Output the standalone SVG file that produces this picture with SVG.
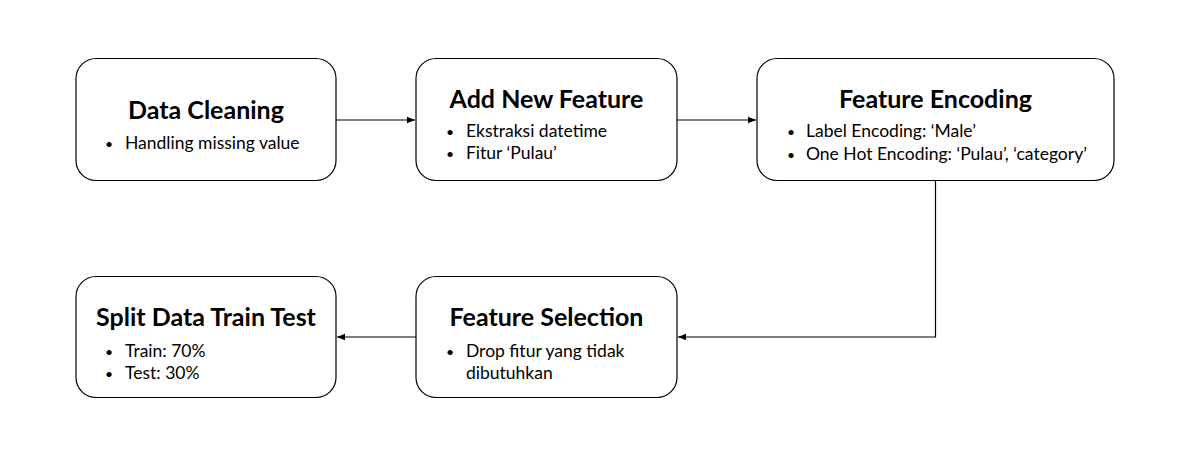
<svg xmlns="http://www.w3.org/2000/svg" width="1185" height="454" viewBox="0 0 1185 454">
<style>
.box{fill:#fff;stroke:#000;stroke-width:1.2}
.t{font-family:Lato,"Liberation Sans",sans-serif;font-weight:bold;font-size:25px;fill:#000;text-anchor:middle}
.b{font-family:Lato,"Liberation Sans",sans-serif;font-size:17.5px;fill:#000}
.d{font-family:Lato,"Liberation Sans",sans-serif;font-size:14px;fill:#000}
.c{fill:none;stroke:#000;stroke-width:1.2}
</style>
<defs>
<marker id="ah" viewBox="0 0 10 10" refX="10" refY="5" markerWidth="8" markerHeight="8" markerUnits="userSpaceOnUse" orient="auto">
<path d="M0,1 L10,5 L0,9 Z" fill="#000"/>
</marker>
</defs>
<rect width="1185" height="454" fill="#fff"/>
<g id="connectors">
<path class="c" d="M336,120 H415" marker-end="url(#ah)"/>
<path class="c" d="M677,120 H756" marker-end="url(#ah)"/>
<path class="c" d="M935.5,180 V337 H678" marker-end="url(#ah)"/>
<path class="c" d="M416,337 H337" marker-end="url(#ah)"/>
</g>
<g id="data-cleaning">
<rect class="box" x="76" y="58.5" width="260" height="122" rx="20"/>
<text class="t" x="206" y="119">Data Cleaning</text>
<text class="d" x="105" y="149">•</text><text class="b" x="125" y="149">Handling missing value</text>
</g>
<g id="add-new-feature">
<rect class="box" x="416" y="58.5" width="261" height="122" rx="20"/>
<text class="t" x="546.5" y="108">Add New Feature</text>
<text class="d" x="446" y="137">•</text><text class="b" x="466" y="137">Ekstraksi datetime</text>
<text class="d" x="446" y="159">•</text><text class="b" x="466" y="159">Fitur ‘Pulau’</text>
</g>
<g id="feature-encoding">
<rect class="box" x="757" y="58.5" width="357" height="122" rx="20"/>
<text class="t" x="935.5" y="108">Feature Encoding</text>
<text class="d" x="787" y="137">•</text><text class="b" x="806" y="137">Label Encoding: ‘Male’</text>
<text class="d" x="787" y="160">•</text><text class="b" x="806" y="160">One Hot Encoding: ‘Pulau’, ‘category’</text>
</g>
<g id="split-data">
<rect class="box" x="76" y="276.5" width="260" height="121" rx="20"/>
<text class="t" x="206" y="326">Split Data Train Test</text>
<text class="d" x="105" y="357">•</text><text class="b" x="125" y="357">Train: 70%</text>
<text class="d" x="105" y="379">•</text><text class="b" x="125" y="379">Test: 30%</text>
</g>
<g id="feature-selection">
<rect class="box" x="416" y="276.5" width="261" height="121" rx="20"/>
<text class="t" x="546.5" y="326">Feature Selection</text>
<text class="d" x="446" y="357">•</text><text class="b" x="466" y="357">Drop fitur yang tidak</text>
<text class="b" x="466" y="379">dibutuhkan</text>
</g>
</svg>
